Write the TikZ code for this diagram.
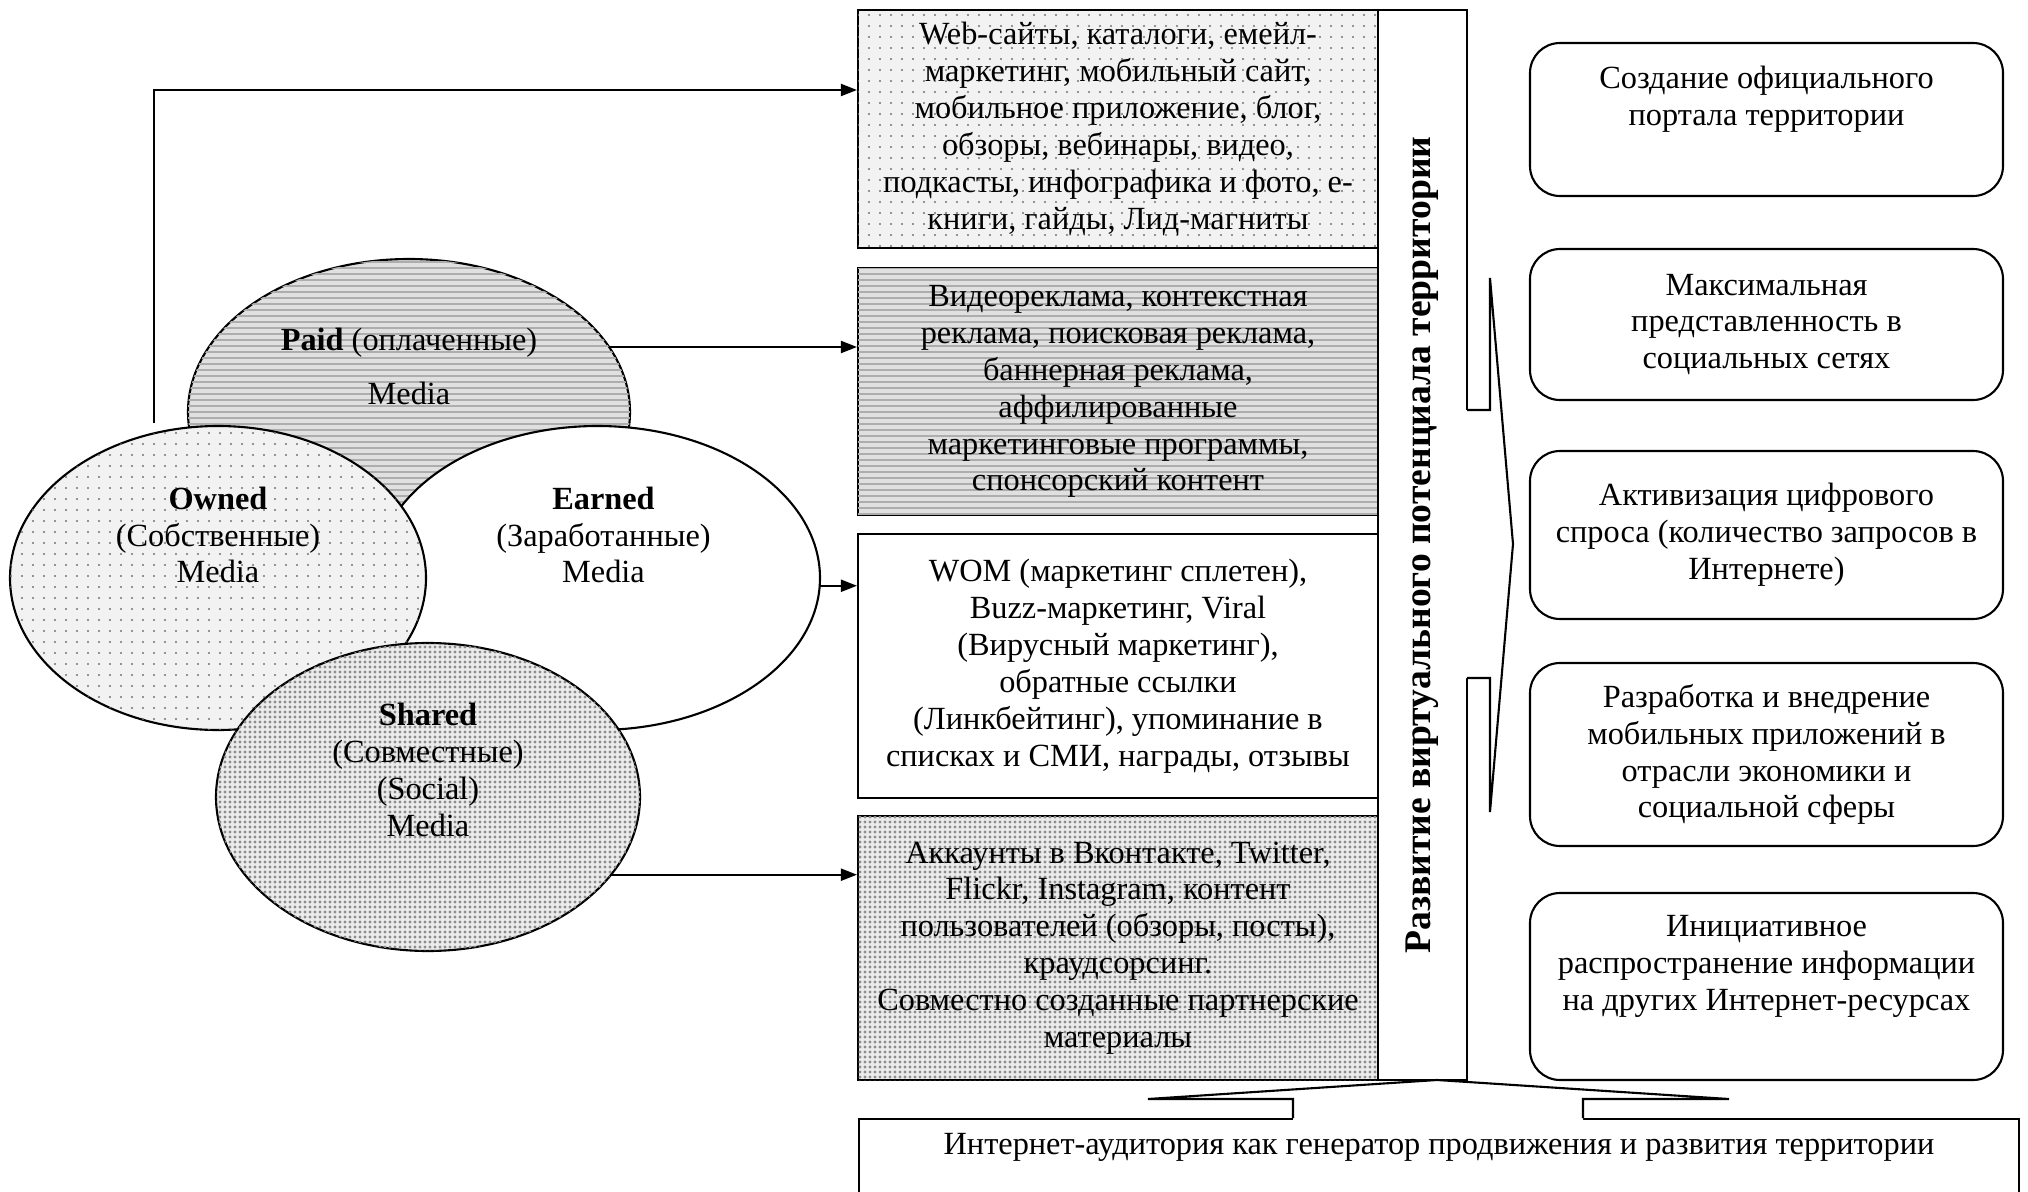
\documentclass[tikz,border=0pt]{standalone}
\usepackage{fontspec}
\setmainfont{Liberation Serif}
\usetikzlibrary{shapes.geometric, arrows.meta, positioning, patterns.meta}

\begin{document}
\begin{tikzpicture}[
        txt/.style={font=\fontsize{9.2}{10.5}\selectfont, align=center},
        owndots/.style={
            fill=black!5,
            postaction={pattern={Dots[distance=0.11cm, radius=0.012cm]}, pattern color=black!55}
        },
        paidlines/.style={
            fill=black!12,
            postaction={pattern={Lines[angle=0, distance=0.06cm, line width=0.018cm]}, pattern color=black!32}
        },
        sharedots/.style={
            fill=black!8,
            postaction={pattern={Dots[distance=0.05cm, radius=0.016cm]}, pattern color=black!45}
        },
        media/.style={ellipse, draw, line width=0.6pt, inner sep=0pt, outer sep=0pt},
        chan/.style={
            rectangle, draw, line width=0.6pt, txt,
            minimum width=5.2cm, inner sep=0pt
        },
        goal/.style={
            rectangle, rounded corners=0.3cm, draw, line width=0.6pt, txt,
            minimum width=4.73cm
        },
        arr/.style={-{Triangle[length=1.6mm, width=1.2mm]}, line width=0.6pt}
    ]
        \useasboundingbox (0,0) rectangle (20.28,-11.92);

        % media circles
        \node[media, paidlines, minimum width=4.42cm, minimum height=3.06cm] (paid) at (4.09,-4.12) {};
        \node[media, fill=white, minimum width=4.45cm, minimum height=3.04cm] (earned) at (5.975,-5.78) {};
        \node[media, owndots, minimum width=4.16cm, minimum height=3.04cm] (owned) at (2.18,-5.78) {};
        \node[media, sharedots, minimum width=4.24cm, minimum height=3.08cm] (shared) at (4.28,-7.97) {};

        \node[txt] (paidtxt) at ([yshift=0.46cm]paid.center) {\textbf{Paid} (оплаченные)\\[0.17cm]Media};
        \node[txt] (ownedtxt) at ([yshift=0.43cm]owned.center) {\textbf{Owned}\\(Собственные)\\Media};
        \node[txt] (earnedtxt) at ([xshift=0.06cm, yshift=0.43cm]earned.center) {\textbf{Earned}\\(Заработанные)\\Media};
        \node[txt] (sharedtxt) at ([yshift=0.27cm]shared.center) {\textbf{Shared}\\(Совместные)\\(Social)\\Media};

        % channels
        \node[chan, owndots, minimum height=2.38cm] (web) at (11.18,-1.29)
            {Web-сайты, каталоги, емейл-\\маркетинг, мобильный сайт,\\мобильное приложение, блог,\\обзоры, вебинары, видео,\\подкасты, инфографика и фото, е-\\книги, гайды, Лид-магниты};
        \node[chan, paidlines, minimum height=2.47cm] (adv) at (11.18,-3.915)
            {Видеореклама, контекстная\\реклама, поисковая реклама,\\баннерная реклама,\\аффилированные\\маркетинговые программы,\\спонсорский контент};
        \node[chan, fill=white, minimum height=2.64cm] (wom) at (11.18,-6.66)
            {WOM (маркетинг сплетен),\\Buzz-маркетинг, Viral\\(Вирусный маркетинг),\\обратные ссылки\\(Линкбейтинг), упоминание в\\списках и СМИ, награды, отзывы};
        \node[chan, sharedots, minimum height=2.64cm] (acc) at (11.18,-9.48)
            {Аккаунты в Вконтакте, Twitter,\\Flickr, Instagram, контент\\пользователей (обзоры, посты),\\краудсорсинг.\\Совместно созданные партнерские\\материалы};

        % vertical bar and bottom bar
        \node[rectangle, draw, line width=0.6pt, minimum width=0.89cm, minimum height=10.7cm, inner sep=0pt] (vbox) at (14.225,-5.45) {};
        \node[rectangle, draw, line width=0.6pt, txt, anchor=north, minimum width=11.6cm,
            text height=0.29cm, text depth=1cm, inner ysep=0.06cm] (aud) at (14.39,-11.18)
            {Интернет-аудитория как генератор продвижения и развития территории};

        % block arrows
        \fill[white] (14.62,-4.10) -- (14.90,-4.10) -- (14.90,-2.78) -- (15.13,-5.44)
            -- (14.90,-8.12) -- (14.90,-6.78) -- (14.62,-6.78) -- cycle;
        \draw[line width=0.6pt] (14.67,-4.10) -- (14.90,-4.10) -- (14.90,-2.78) -- (15.13,-5.44)
            -- (14.90,-8.12) -- (14.90,-6.78) -- (14.67,-6.78);
        \fill[white] (12.93,-11.24) -- (12.93,-10.99) -- (11.48,-10.99) -- (14.37,-10.80)
            -- (17.29,-10.99) -- (15.83,-10.99) -- (15.83,-11.24) -- cycle;
        \draw[line width=0.6pt] (12.93,-11.18) -- (12.93,-10.99) -- (11.48,-10.99) -- (14.37,-10.80)
            -- (17.29,-10.99) -- (15.83,-10.99) -- (15.83,-11.18);

        \node[rotate=90, font=\fontsize{10.7}{12}\selectfont\bfseries] (vtxt) at (vbox.center)
            {Развитие виртуального потенциала территории};

        % goals
        \node[goal, minimum height=1.53cm] (g1) at (17.665,-1.195)
            {Создание официального\\портала территории\\\strut};
        \node[goal, minimum height=1.51cm] (g2) at (17.665,-3.245)
            {Максимальная\\представленность в\\социальных сетях};
        \node[goal, minimum height=1.68cm] (g3) at (17.665,-5.35)
            {Активизация цифрового\\спроса (количество запросов в\\Интернете)};
        \node[goal, minimum height=1.83cm] (g4) at (17.665,-7.545)
            {Разработка и внедрение\\мобильных приложений в\\отрасли экономики и\\социальной сферы};
        \node[goal, minimum height=1.87cm] (g5) at (17.665,-9.865)
            {Инициативное\\распространение информации\\на других Интернет-ресурсах\\\strut};

        % connectors
        \draw[arr, shorten <=1mm] (owned.114) |- ([yshift=0.39cm]web.west);
        \draw[arr] (paid.18) -- (paid.18 -| adv.west);
        \draw[arr] (earned.-2) -- (earned.-2 -| wom.west);
        \draw[arr] (shared.-23) -- (shared.-23 -| acc.west);
    \end{tikzpicture}
\end{document}
